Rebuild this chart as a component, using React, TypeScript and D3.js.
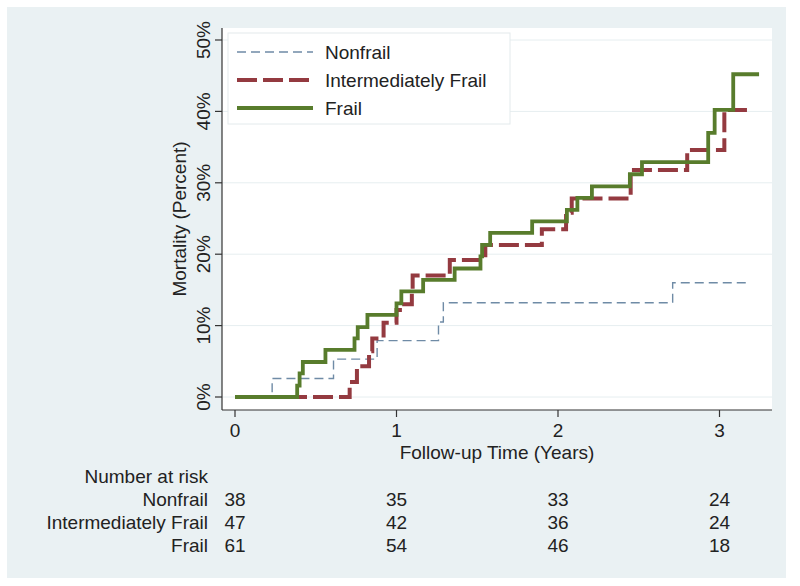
import React from 'react';
import * as d3 from 'd3';

// Kaplan-Meier failure estimates (time in years, mortality as proportion)
const nonfrailTimes = [0, 0.23, 0.61, 0.88, 1.26, 1.29, 2.71];
const nonfrailRisk = [0, 0.026, 0.053, 0.079, 0.105, 0.132, 0.160];
const nonfrailEnd = 3.17;

const interTimes = [0, 0.71, 0.755, 0.83, 0.85, 0.92, 1.0, 1.035, 1.095, 1.1, 1.33, 1.55, 1.9, 2.05, 2.085, 2.45, 2.8, 3.03];
const interRisk = [0, 0.021, 0.043, 0.064, 0.082, 0.104, 0.122, 0.13, 0.149, 0.170, 0.192, 0.213, 0.235, 0.258, 0.278, 0.318, 0.346, 0.402];
const interEnd = 3.17;

const frailTimes = [0, 0.385, 0.4, 0.42, 0.56, 0.74, 0.76, 0.82, 1.0, 1.03, 1.165, 1.36, 1.52, 1.53, 1.58, 1.84, 2.055, 2.12, 2.21, 2.445, 2.52, 2.93, 2.97, 3.085];
const frailRisk = [0, 0.016, 0.033, 0.049, 0.066, 0.082, 0.098, 0.115, 0.131, 0.148, 0.164, 0.180, 0.197, 0.213, 0.230, 0.246, 0.262, 0.279, 0.295, 0.312, 0.329, 0.370, 0.402, 0.452];
const frailEnd = 3.245;

const groupNames = ['Nonfrail', 'Intermediately Frail', 'Frail'];
const xTicks = [0, 1, 2, 3];
const yTicks = [0, 0.1, 0.2, 0.3, 0.4, 0.5];
const atRiskNonfrail = [38, 35, 33, 24];
const atRiskInter = [47, 42, 36, 24];
const atRiskFrail = [61, 54, 46, 18];

const FONT = '"Liberation Sans", Arial, Helvetica, sans-serif';
const BG = '#eaf1f3';
const GRID = '#e6eef0';

const styles = [
  { color: '#6f8ba6', width: 1.4, dash: '9,5' },
  { color: '#943a40', width: 4, dash: '20,6' },
  { color: '#587c2c', width: 3.8, dash: null as string | null },
];

const App = () => {
  const width = 800;
  const height = 586;
  // plot region
  const left = 222, right = 772, top = 28, bottom = 410;

  const x = d3.scaleLinear().domain([0, 3]).range([235, 719.5]);
  const y = d3.scaleLinear().domain([0, 0.5]).range([397, 40]);

  const line = d3.line<[number, number]>()
    .x(d => x(d[0]))
    .y(d => y(d[1]))
    .curve(d3.curveStepAfter);

  const toPts = (times: number[], risk: number[], end: number): [number, number][] => {
    const pts = times.map((t, i) => [t, risk[i]] as [number, number]);
    pts.push([end, risk[risk.length - 1]]);
    return pts;
  };

  const series = [
    toPts(nonfrailTimes, nonfrailRisk, nonfrailEnd),
    toPts(interTimes, interRisk, interEnd),
    toPts(frailTimes, frailRisk, frailEnd),
  ];
  const atRisk = [atRiskNonfrail, atRiskInter, atRiskFrail];

  const fs = 19;

  return (
    <svg width={width} height={height} style={{ position: 'absolute', left: 0, top: 0, background: '#fff' }}
      fontFamily={FONT}>
      <rect x={7} y={7} width={779} height={571} fill={BG} />
      <rect x={left} y={top} width={right - left} height={bottom - top} fill="#fff" />

      {/* gridlines */}
      {yTicks.map(t => (
        <line key={'g' + t} x1={left} x2={right} y1={y(t)} y2={y(t)} stroke={GRID} strokeWidth={1} />
      ))}

      {/* curves: draw nonfrail first, then inter, then frail on top */}
      {series.map((pts, i) => (
        <path key={'s' + i} d={line(pts) || ''} fill="none" stroke={styles[i].color}
          strokeWidth={styles[i].width} strokeDasharray={styles[i].dash || undefined} />
      ))}

      {/* y axis */}
      <line x1={left} x2={left} y1={top} y2={bottom} stroke="#333" strokeWidth={1.2} />
      {yTicks.map(t => (
        <g key={'yt' + t}>
          <line x1={left - 7} x2={left} y1={y(t)} y2={y(t)} stroke="#333" strokeWidth={1.2} />
          <text transform={`translate(${left - 12},${y(t)}) rotate(-90)`} textAnchor="middle"
            fontSize={fs} fill="#222">{`${Math.round(t * 100)}%`}</text>
        </g>
      ))}
      <text transform={`translate(186,${(top + bottom) / 2}) rotate(-90)`} textAnchor="middle"
        fontSize={fs} fill="#222">Mortality (Percent)</text>

      {/* x axis */}
      <line x1={left} x2={right} y1={bottom} y2={bottom} stroke="#333" strokeWidth={1.2} />
      {xTicks.map(t => (
        <g key={'xt' + t}>
          <line x1={x(t)} x2={x(t)} y1={bottom} y2={bottom + 7} stroke="#333" strokeWidth={1.2} />
          <text x={x(t)} y={437} textAnchor="middle" fontSize={fs} fill="#222">{t}</text>
        </g>
      ))}
      <text x={(left + right) / 2} y={459} textAnchor="middle" fontSize={fs} fill="#222">Follow-up Time (Years)</text>

      {/* legend */}
      <rect x={228} y={33} width={282} height={91} fill="#fff" stroke="#e3eaec" strokeWidth={1} />
      {groupNames.map((name, i) => {
        const ly = 52 + i * 28;
        return (
          <g key={'l' + i}>
            <line x1={237} x2={313} y1={ly} y2={ly} stroke={styles[i].color}
              strokeWidth={styles[i].width} strokeDasharray={styles[i].dash || undefined} />
            <text x={325} y={ly + 7} fontSize={fs} fill="#222">{name}</text>
          </g>
        );
      })}

      {/* number at risk table */}
      <text x={208} y={483} textAnchor="end" fontSize={fs} fill="#222">Number at risk</text>
      {groupNames.map((name, i) => {
        const ry = 506 + i * 23;
        return (
          <g key={'r' + i}>
            <text x={208} y={ry} textAnchor="end" fontSize={fs} fill="#222">{name}</text>
            {atRisk[i].map((n, j) => (
              <text key={j} x={x(xTicks[j])} y={ry} textAnchor="middle" fontSize={fs} fill="#222">{n}</text>
            ))}
          </g>
        );
      })}
    </svg>
  );
};

export default App;
